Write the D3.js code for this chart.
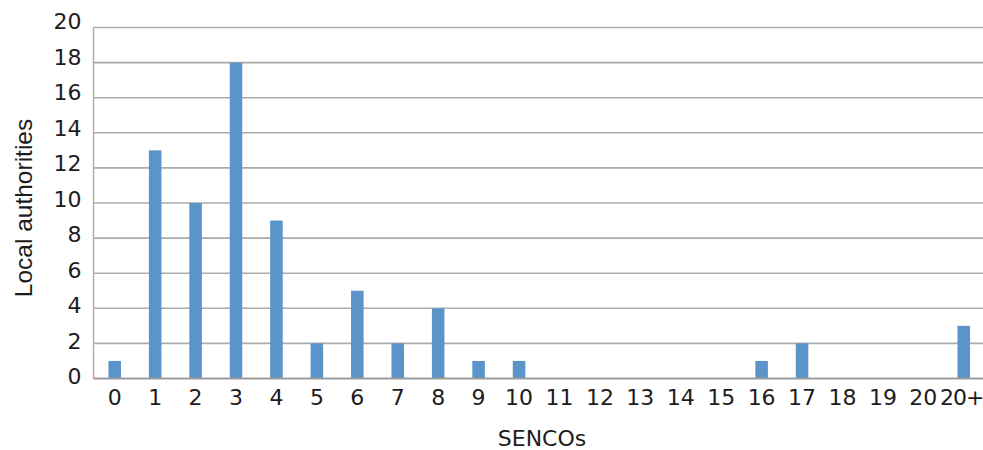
<!DOCTYPE html>
<html><head><meta charset="utf-8">
<script src="https://cdn.jsdelivr.net/npm/d3@7"></script>
<style>body{margin:0;background:#fff}svg{display:block}</style>
</head><body>
<svg id="c" width="983" height="450"></svg>
<script>
const categories = ["0","1","2","3","4","5","6","7","8","9","10","11","12","13","14","15","16","17","18","19","20","20+"];
const values = [1,13,10,18,9,2,5,2,4,1,1,0,0,0,0,0,1,2,0,0,0,3];
const yTicks = [0,2,4,6,8,10,12,14,16,18,20];
const xTitle = "SENCOs";
const yTitle = "Local authorities";

const svg = d3.select("#c");
const m = {left:93.5, right:0, top:27.5, bottom:71.5};
const W = 983, H = 450;
const x = d3.scaleBand().domain(categories).range([m.left, W - m.right]).paddingInner(0.69).paddingOuter(0.345);
const y = d3.scaleLinear().domain([0,20]).range([H - m.bottom, m.top]);

// gridlines
svg.append("g").selectAll("line").data(yTicks.filter(d=>d>0)).join("line")
  .attr("x1", m.left).attr("x2", W - m.right)
  .attr("y1", d=>y(d)).attr("y2", d=>y(d))
  .attr("stroke", "#ababab").attr("stroke-width", 1.6);

// bars
svg.append("g").selectAll("rect").data(values).join("rect")
  .attr("x", (d,i)=>x(categories[i]) + 1)
  .attr("width", x.bandwidth())
  .attr("y", d=>y(d))
  .attr("height", d=>y(0)-y(d))
  .attr("fill", "#5a94c8");

// left axis line
svg.append("line").attr("x1", m.left).attr("x2", m.left).attr("y1", m.top).attr("y2", y(0))
  .attr("stroke", "#b0b0b0").attr("stroke-width", 1.5);
// baseline
svg.append("line").attr("x1", m.left).attr("x2", W).attr("y1", y(0)).attr("y2", y(0))
  .attr("stroke", "#9c9c9c").attr("stroke-width", 2);

// y axis labels
const yAxis = d3.axisLeft(y).tickValues(yTicks).tickSize(0).tickPadding(12);
const gy = svg.append("g").attr("transform", `translate(${m.left},0)`).call(yAxis);
gy.select(".domain").remove();
gy.selectAll("text").attr("font-family","DejaVu Sans").attr("font-size","22px").attr("fill","#1e1b1c")
  .attr("dy","0.32em").attr("transform", d=>`translate(0,${-2 - d*0.18})`);

// x axis labels
const xAxis = d3.axisBottom(x).tickSize(0).tickPadding(11);
const gx = svg.append("g").attr("transform", `translate(1,${y(0)})`).call(xAxis);
gx.select(".domain").remove();
gx.selectAll("text").attr("font-family","DejaVu Sans").attr("font-size","22px").attr("fill","#1e1b1c")
  .attr("letter-spacing", d => d === "20+" ? "-1px" : null)
  .attr("dx", d => d === "20+" ? "-2px" : null);

// titles
svg.append("text").attr("x", 542).attr("y", 446)
  .attr("text-anchor","middle").attr("font-family","DejaVu Sans").attr("font-size","22px").attr("fill","#1e1b1c")
  .text(xTitle);
svg.append("text").attr("transform","translate(32,208) rotate(-90)")
  .attr("text-anchor","middle").attr("font-family","Liberation Sans").attr("font-size","24.5px").attr("fill","#1e1b1c")
  .text(yTitle);
</script>
</body></html>
